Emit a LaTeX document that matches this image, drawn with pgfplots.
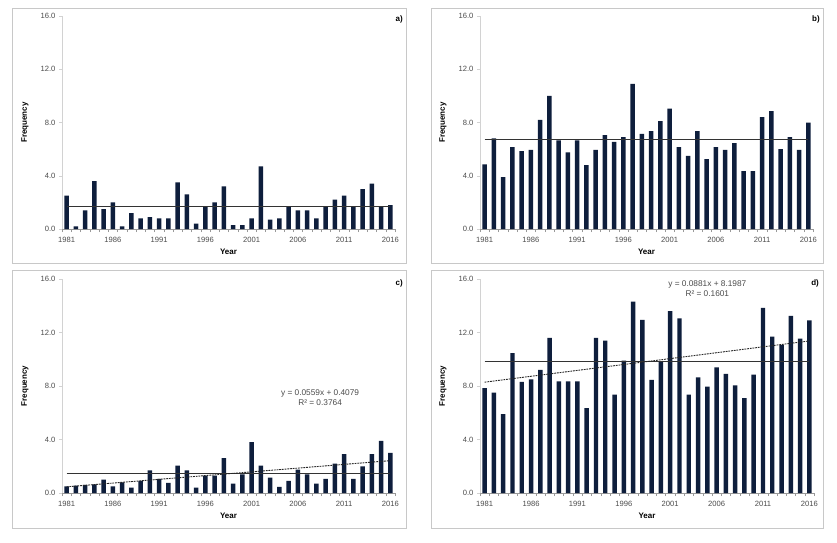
\documentclass[border=0pt]{standalone}
\usepackage{pgfplots}
\pgfplotsset{compat=1.18}
\usepackage{fontspec}
\setmainfont{Liberation Sans}
\definecolor{barnavy}{RGB}{14,30,60}
\definecolor{ticktext}{RGB}{75,75,75}
\definecolor{framegray}{RGB}{200,200,200}

\tikzset{
  plabel/.style={anchor=north east, inner sep=0pt, font=\fontsize{8}{9}\selectfont\bfseries},
  eqlabel/.style={font=\fontsize{8.3}{9.5}\selectfont, text=ticktext, align=center, inner sep=0pt},
}

\pgfplotsset{
  panel/.style={
    scale only axis,
    width=333pt, height=213pt,
    anchor=south west,
    xmin=0.5, xmax=36.5,
    ymin=0, ymax=16,
    axis x line=bottom, axis y line=left,
    axis line style={-},
    x axis line style={draw=gray!80},
    y axis line style={draw=gray!35},
    xtick={1,6,11,16,21,26,31,36},
    xticklabels={1981,1986,1991,1996,2001,2006,2011,2016},
    minor xtick={0.5,1.5,...,36.5},
    major x tick style={draw=none},
    minor x tick style={draw=gray!80},
    minor tick length=3pt,
    ytick={0,4,8,12,16},
    major y tick style={draw=gray!35},
    major tick length=3pt,
    tick align=outside,
    yticklabel style={/pgf/number format/.cd,fixed,fixed zerofill,precision=1},
    /pgf/number format/assume math mode=true,
    tick label style={font=\fontsize{7.6}{9}\selectfont, text=ticktext},
    xticklabel style={yshift=-1.5pt},
    every axis y label/.style={at={(axis description cs:-0.111,0.5)},rotate=90,anchor=center,font=\fontsize{8}{9}\selectfont\bfseries},
    every axis x label/.style={at={(axis description cs:0.5,-0.108)},anchor=center,font=\fontsize{8}{9}\selectfont\bfseries},
    xlabel={Year}, ylabel={Frequency},
    clip=false,
  },
  bars/.style={ybar, bar width=0.48, fill=barnavy, draw=none, bar shift=0pt},
  meanline/.style={black!80, line width=1.2pt, mark=none},
  trendline/.style={black!85, line width=0.9pt, dash pattern=on 1.8pt off 0.9pt, mark=none},
}

\begin{document}
\begin{tikzpicture}[x=1pt,y=1pt]
\useasboundingbox (0,0) rectangle (837,542);
\fill[white] (0,0) rectangle (837,542);
\draw[framegray, line width=0.9pt] (12,279) rectangle (406,534);
\draw[framegray, line width=0.9pt] (431,279) rectangle (823,534);
\draw[framegray, line width=0.9pt] (12,14) rectangle (406,272);
\draw[framegray, line width=0.9pt] (431,14) rectangle (823,272);

% ---------- a)
\begin{axis}[panel, at={(62pt,313pt)}]
\addplot[bars] coordinates {
(1,2.5)(2,0.2)(3,1.4)(4,3.6)(5,1.5)(6,2.0)(7,0.2)(8,1.2)(9,0.8)(10,0.9)
(11,0.8)(12,0.8)(13,3.5)(14,2.6)(15,0.4)(16,1.65)(17,2.0)(18,3.2)(19,0.3)(20,0.3)
(21,0.8)(22,4.7)(23,0.7)(24,0.8)(25,1.7)(26,1.4)(27,1.4)(28,0.8)(29,1.7)(30,2.2)
(31,2.5)(32,1.7)(33,3.0)(34,3.4)(35,1.7)(36,1.8)};
\addplot[meanline] coordinates {(1,1.67)(36,1.67)};
\node[plabel] at (rel axis cs:1.024,1.0) {a)};
\end{axis}

% ---------- b)
\begin{axis}[panel, at={(480pt,313pt)}]
\addplot[bars] coordinates {
(1,4.85)(2,6.8)(3,3.9)(4,6.15)(5,5.85)(6,5.95)(7,8.2)(8,10.0)(9,6.65)(10,5.75)
(11,6.65)(12,4.8)(13,5.95)(14,7.05)(15,6.55)(16,6.9)(17,10.9)(18,7.15)(19,7.35)(20,8.1)
(21,9.05)(22,6.15)(23,5.5)(24,7.35)(25,5.25)(26,6.15)(27,5.95)(28,6.45)(29,4.35)(30,4.35)
(31,8.4)(32,8.85)(33,6.0)(34,6.9)(35,5.95)(36,8.0)};
\addplot[meanline] coordinates {(1,6.7)(36,6.7)};
\node[plabel] at (rel axis cs:1.021,1.0) {b)};
\end{axis}

% ---------- c)
\begin{axis}[panel, at={(62pt,49pt)}, height=214pt]
\addplot[bars] coordinates {
(1,0.5)(2,0.55)(3,0.6)(4,0.65)(5,1.0)(6,0.5)(7,0.8)(8,0.4)(9,0.9)(10,1.7)
(11,1.05)(12,0.75)(13,2.05)(14,1.7)(15,0.4)(16,1.3)(17,1.3)(18,2.6)(19,0.7)(20,1.4)
(21,3.8)(22,2.05)(23,1.15)(24,0.45)(25,0.9)(26,1.75)(27,1.4)(28,0.7)(29,1.05)(30,2.2)
(31,2.9)(32,1.05)(33,2.0)(34,2.9)(35,3.9)(36,3.0)};
\addplot[meanline] coordinates {(1,1.44)(36,1.44)};
\addplot[trendline] coordinates {(1,0.4638)(36,2.4203)};
\node[eqlabel] at (axis cs:28.4,7.1) {y = 0.0559x + 0.4079\\[0.5pt] R² = 0.3764};
\node[plabel] at (rel axis cs:1.024,1.0) {c)};
\end{axis}

% ---------- d)
\begin{axis}[panel, at={(480pt,49pt)}, height=214pt, width=334pt]
\addplot[bars] coordinates {
(1,7.85)(2,7.5)(3,5.9)(4,10.45)(5,8.3)(6,8.5)(7,9.2)(8,11.6)(9,8.35)(10,8.35)
(11,8.35)(12,6.35)(13,11.6)(14,11.4)(15,7.35)(16,9.9)(17,14.3)(18,12.95)(19,8.45)(20,9.85)
(21,13.6)(22,13.05)(23,7.35)(24,8.65)(25,7.95)(26,9.4)(27,8.9)(28,8.05)(29,7.1)(30,8.85)
(31,13.85)(32,11.7)(33,11.05)(34,13.25)(35,11.55)(36,12.9)};
\addplot[meanline] coordinates {(1,9.83)(36,9.83)};
\addplot[trendline] coordinates {(1,8.2868)(36,11.3703)};
\node[eqlabel] at (axis cs:25,15.25) {y = 0.0881x + 8.1987\\[0.5pt] R² = 0.1601};
\node[plabel] at (rel axis cs:1.015,1.0) {d)};
\end{axis}
\end{tikzpicture}
\end{document}
